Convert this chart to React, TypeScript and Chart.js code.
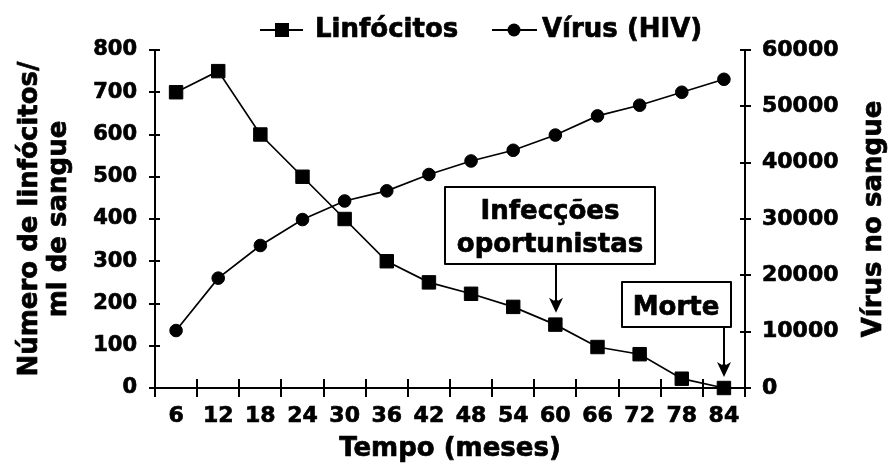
import { useEffect, useRef } from "react";
import { Chart, registerables } from "chart.js";

Chart.register(...registerables);

// ---- data ----
const months = ["6", "12", "18", "24", "30", "36", "42", "48", "54", "60", "66", "72", "78", "84"];
const lymphocytes = [700, 750, 600, 500, 400, 300, 250, 223, 192, 150, 97, 80, 22, 0];
const virus = [10200, 19500, 25300, 29900, 33200, 35000, 37900, 40300, 42200, 44900, 48300, 50200, 52500, 54800];
const leftMax = 800;
const leftStep = 100;
const rightMax = 60000;
const rightStep = 10000;
const seriesNames = ["Linfócitos", "Vírus (HIV)"];
const leftTitle = ["Número de linfócitos/", "ml de sangue"];
const rightTitle = "Vírus no sangue";
const xTitle = "Tempo (meses)";
const noteInfections = ["Infecções", "oportunistas"];
const noteInfectionsMonth = "60";
const noteDeath = ["Morte"];
const noteDeathMonth = "84";

const FONT = "'DejaVu Sans', 'Liberation Sans', sans-serif";
const STROKE = 0.7;

const overlay = {
  id: "overlay",
  beforeDatasetsDraw(chart: any) {
    const { ctx, chartArea: a, scales } = chart;
    ctx.save();
    ctx.strokeStyle = "#000";
    ctx.lineWidth = 2;
    ctx.lineCap = "butt";
    // left axis
    ctx.beginPath();
    ctx.moveTo(a.left, a.top);
    ctx.lineTo(a.left, a.bottom + 1);
    ctx.stroke();
    scales.y.ticks.forEach((t: any) => {
      const y = Math.round(scales.y.getPixelForValue(t.value));
      ctx.beginPath();
      ctx.moveTo(a.left - 6, y);
      ctx.lineTo(a.left + 5, y);
      ctx.stroke();
    });
    // right axis
    ctx.beginPath();
    ctx.moveTo(a.right, a.top);
    ctx.lineTo(a.right, a.bottom + 1);
    ctx.stroke();
    scales.y1.ticks.forEach((t: any) => {
      const y = Math.round(scales.y1.getPixelForValue(t.value));
      ctx.beginPath();
      ctx.moveTo(a.right - 5, y);
      ctx.lineTo(a.right + 6, y);
      ctx.stroke();
    });
    // bottom axis
    ctx.beginPath();
    ctx.moveTo(a.left, a.bottom);
    ctx.lineTo(a.right, a.bottom);
    ctx.stroke();
    const xs = scales.x;
    const n = months.length;
    const bounds: number[] = [a.left];
    for (let i = 1; i < n; i++) {
      bounds.push((xs.getPixelForValue(i - 1) + xs.getPixelForValue(i)) / 2);
    }
    bounds.push(a.right);
    bounds.forEach((bx) => {
      const x = Math.round(bx);
      ctx.beginPath();
      ctx.moveTo(x, a.bottom - 9);
      ctx.lineTo(x, a.bottom + 9);
      ctx.stroke();
    });
    ctx.restore();
  },
  afterDraw(chart: any) {
    const { ctx, chartArea: a, scales } = chart;
    ctx.save();
    ctx.fillStyle = "#000";
    ctx.strokeStyle = "#000";
    ctx.font = `bold 26px ${FONT}`;
    ctx.textBaseline = "alphabetic";
    ctx.lineJoin = "round";

    const txt = (s: string, x: number, y: number) => {
      ctx.lineWidth = STROKE;
      ctx.fillText(s, x, y);
      ctx.strokeText(s, x, y);
    };

    // legend
    ctx.lineWidth = 2;
    ctx.beginPath();
    ctx.moveTo(260, 30);
    ctx.lineTo(303, 30);
    ctx.stroke();
    ctx.fillRect(282 - 7, 30 - 7, 14, 14);
    ctx.textAlign = "left";
    txt(seriesNames[0], 315, 37);
    ctx.lineWidth = 2;
    ctx.beginPath();
    ctx.moveTo(492, 30);
    ctx.lineTo(537, 30);
    ctx.stroke();
    ctx.beginPath();
    ctx.arc(514, 30, 6.5, 0, Math.PI * 2);
    ctx.fill();
    txt(seriesNames[1], 542, 37);

    // left title
    const cy = (a.top + a.bottom) / 2;
    ctx.textAlign = "center";
    ctx.save();
    ctx.translate(37, cy);
    ctx.rotate(-Math.PI / 2);
    txt(leftTitle[0], 0, 0);
    ctx.restore();
    ctx.save();
    ctx.translate(66, cy);
    ctx.rotate(-Math.PI / 2);
    txt(leftTitle[1], 0, 0);
    ctx.restore();
    // right title
    ctx.save();
    ctx.translate(881, cy);
    ctx.rotate(-Math.PI / 2);
    txt(rightTitle, 0, 0);
    ctx.restore();
    // x title
    txt(xTitle, (a.left + a.right) / 2, 456);

    // annotations
    const drawBox = (x0: number, y0: number, x1: number, y1: number) => {
      ctx.fillStyle = "#fff";
      ctx.fillRect(x0, y0, x1 - x0, y1 - y0);
      ctx.lineWidth = 2;
      ctx.strokeStyle = "#000";
      ctx.strokeRect(x0, y0, x1 - x0, y1 - y0);
      ctx.fillStyle = "#000";
    };
    const drawArrow = (x: number, y0: number, tip: number) => {
      ctx.lineWidth = 2;
      ctx.beginPath();
      ctx.moveTo(x, y0);
      ctx.lineTo(x, tip - 4);
      ctx.stroke();
      ctx.beginPath();
      ctx.moveTo(x, tip);
      ctx.lineTo(x - 7, tip - 15);
      ctx.lineTo(x - 2, tip - 12);
      ctx.lineTo(x, tip - 14);
      ctx.lineTo(x + 2, tip - 12);
      ctx.lineTo(x + 7, tip - 15);
      ctx.closePath();
      ctx.fill();
    };
    const i60 = months.indexOf(noteInfectionsMonth);
    const px60 = scales.x.getPixelForValue(i60);
    const py60 = scales.y.getPixelForValue(lymphocytes[i60]);
    drawBox(445, 187, 655, 264);
    ctx.textAlign = "center";
    txt(noteInfections[0], 550, 219);
    txt(noteInfections[1], 550, 252);
    drawArrow(Math.round(px60) + 1, 264, py60 - 12);

    const i84 = months.indexOf(noteDeathMonth);
    const px84 = scales.x.getPixelForValue(i84);
    const py84 = scales.y.getPixelForValue(lymphocytes[i84]);
    drawBox(622, 282, 731, 327);
    txt(noteDeath[0], 676, 315);
    drawArrow(Math.round(px84), 327, py84 - 11);

    ctx.restore();
  },
};

export default function App() {
  const ref = useRef<HTMLCanvasElement>(null);
  useEffect(() => {
    const tickFont = { family: FONT, size: 21, weight: "bold" as const };
    const chart = new Chart(ref.current!, {
      type: "line",
      data: {
        labels: months,
        datasets: [
          {
            label: seriesNames[0],
            data: lymphocytes,
            yAxisID: "y",
            borderColor: "#000",
            borderWidth: 1.7,
            pointStyle: "rect",
            pointRadius: 9.5,
            pointBackgroundColor: "#000",
            pointBorderColor: "#000",
            pointBorderWidth: 1,
            tension: 0,
            clip: false as any,
          },
          {
            label: seriesNames[1],
            data: virus,
            yAxisID: "y1",
            borderColor: "#000",
            borderWidth: 1.7,
            pointStyle: "circle",
            pointRadius: 6.3,
            pointBackgroundColor: "#000",
            pointBorderColor: "#000",
            pointBorderWidth: 1,
            tension: 0,
            clip: false as any,
          },
        ],
      },
      options: {
        responsive: false,
        devicePixelRatio: 1,
        animation: false,
        layout: { padding: { top: 50, left: 0, right: 0, bottom: 0 } },
        plugins: { legend: { display: false }, tooltip: { enabled: false } },
        scales: {
          x: {
            type: "category",
            offset: true,
            grid: { display: false, drawTicks: false },
            border: { display: false },
            ticks: {
              font: { ...tickFont, size: 22 },
              color: "#000",
              padding: 15,
              maxRotation: 0,
              autoSkip: false,
              textStrokeColor: "#000",
              textStrokeWidth: STROKE,
            },
            afterFit: (s: any) => {
              s.height = 77;
            },
          },
          y: {
            position: "left",
            min: 0,
            max: leftMax,
            grid: { display: false, drawTicks: false },
            border: { display: false },
            ticks: {
              stepSize: leftStep,
              font: tickFont,
              color: "#000",
              padding: 18,
              textStrokeColor: "#000",
              textStrokeWidth: STROKE,
              callback: (v: any) => String(v),
            },
            afterFit: (s: any) => {
              s.width = 155;
            },
          },
          y1: {
            position: "right",
            min: 0,
            max: rightMax,
            grid: { display: false, drawTicks: false },
            border: { display: false },
            ticks: {
              stepSize: rightStep,
              font: { ...tickFont, size: 22 },
              color: "#000",
              padding: 17,
              textStrokeColor: "#000",
              textStrokeWidth: STROKE,
              callback: (v: any) => String(v),
            },
            afterFit: (s: any) => {
              s.width = 143;
            },
          },
        },
      },
      plugins: [overlay],
    });
    return () => chart.destroy();
  }, []);
  return (
    <div style={{ position: "fixed", left: 0, top: 0, width: 888, height: 465, background: "#fff" }}>
      <canvas ref={ref} width={888} height={465} style={{ display: "block" }} />
    </div>
  );
}
